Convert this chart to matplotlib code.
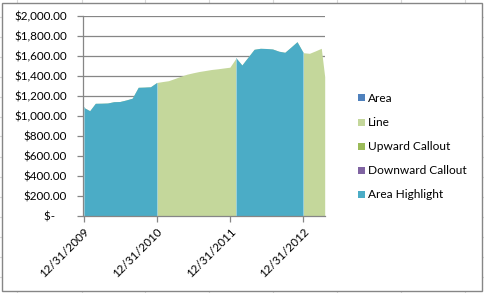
import matplotlib.pyplot as plt
import matplotlib.dates as mdates
import numpy as np
import pandas as pd
from matplotlib.patches import Rectangle
from matplotlib.lines import Line2D

# month-end dates Dec 2009 .. Mar 2013, plus a last partial point in April 2013
dates = list(pd.date_range("2009-12-31", "2013-03-31", freq="ME")) + [pd.Timestamp("2013-04-17")]
values = [1087, 1053, 1127, 1128, 1130, 1143, 1145, 1160, 1178, 1287, 1289, 1292, 1335,
          1345, 1353, 1375, 1397, 1418, 1432, 1445, 1455, 1465, 1472, 1480, 1488,
          1580, 1510, 1590, 1667, 1677, 1675, 1670, 1648, 1637, 1690, 1743,
          1633, 1627, 1650, 1677, 1393]

# highlighted periods (start, end)
highlights = [("2009-12-31", "2010-12-31"), ("2012-01-31", "2012-12-31")]

legend_labels = ["Area", "Line", "Upward Callout", "Downward Callout", "Area Highlight"]
legend_colors = ["#4f81bd", "#c4d79b", "#9bbb59", "#8064a2", "#4bacc6"]

plt.rcParams['font.family'] = ['Lato', 'DejaVu Sans']
W, H = 485, 293
fig = plt.figure(figsize=(W / 100, H / 100), dpi=100)

# spreadsheet grid behind the chart
for gx in [17, 81.5, 145.5, 209.5, 273.5, 337.5, 401.5, 465.5]:
    fig.add_artist(Line2D([gx / W, gx / W], [0, 1], color="#d9d9d9", lw=0.8, zorder=-3))
for gy in np.arange(16.5, H, 20):
    fig.add_artist(Line2D([0, 1], [1 - gy / H, 1 - gy / H], color="#d9d9d9", lw=0.8, zorder=-3))
fig.add_artist(Rectangle((2.5 / W, 1 - 290.5 / H), 480 / W, 288 / H, facecolor="white",
                         edgecolor="#868686", lw=1.0, zorder=-2))

ax = fig.add_axes([83.5 / W, 1 - 216 / H, (324.7 - 83.5) / W, 200 / H])
ax.set_facecolor("none")

x = mdates.date2num(dates)
y = np.array(values, dtype=float)

ax.fill_between(x, 0, y, color="#c4d79b", lw=0, zorder=2)
for start, end in highlights:
    s = mdates.date2num(pd.Timestamp(start))
    e = mdates.date2num(pd.Timestamp(end))
    m = (x >= s) & (x <= e)
    ax.fill_between(x[m], 0, y[m], color="#4bacc6", lw=0, zorder=3)
    ax.plot([s, s], [0, y[m][0]], color="#9fd3e0", lw=0.6, zorder=4)
    ax.plot([e, e], [0, y[m][-1]], color="#9fd3e0", lw=0.6, zorder=4)

ax.set_xlim(x[0], x[-1])
ax.set_ylim(0, 2000)
ax.set_yticks(np.arange(0, 2001, 200))
ax.set_yticklabels(["$-    "] + ["${:,.2f}".format(v) for v in range(200, 2001, 200)])
ticks = [mdates.date2num(pd.Timestamp(d)) for d in ["2009-12-31", "2010-12-31", "2011-12-31", "2012-12-31"]]
ax.set_xticks(ticks)
ax.set_xticklabels(["12/31/2009", "12/31/2010", "12/31/2011", "12/31/2012"],
                   rotation=45, ha="right", rotation_mode="anchor")

ax.grid(axis="y", color="#868686", lw=0.9, zorder=1)
ax.set_axisbelow(True)
for side in ["top", "right"]:
    ax.spines[side].set_visible(False)
for side in ["left", "bottom"]:
    ax.spines[side].set_color("#868686")
    ax.spines[side].set_linewidth(0.9)
    ax.spines[side].set_zorder(5)
ax.tick_params(axis="both", colors="#868686", length=4, width=0.9, labelsize=8.4,
               labelcolor="black")
ax.tick_params(axis="y", pad=8)
ax.tick_params(axis="x", pad=3)

# legend
for i, (lab, col) in enumerate(zip(legend_labels, legend_colors)):
    yy = 98 + 24 * i
    fig.add_artist(Rectangle((358 / W, 1 - (yy + 3.5) / H), 7 / W, 7 / H, facecolor=col, lw=0))
    fig.text(368 / W, 1 - yy / H, lab, fontsize=8.6, va="center", ha="left")

fig.savefig("out.png", dpi=100)
